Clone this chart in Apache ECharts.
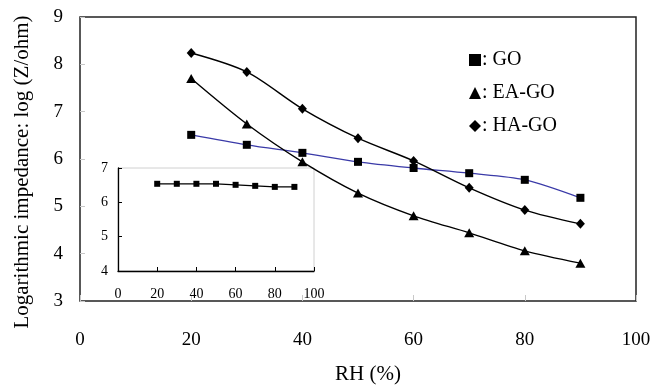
<!DOCTYPE html>
<html>
<head>
<meta charset="utf-8">
<script src="https://cdn.jsdelivr.net/npm/echarts@6/dist/echarts.min.js"></script>
<style>
  html, body { margin: 0; padding: 0; background: #fff; }
  #chart { width: 653px; height: 386px; }
</style>
</head>
<body>
<div id="chart"></div>
<script>
// Relative humidity (%) at each measurement
const rh = [20, 30, 40, 50, 60, 70, 80, 90];
// log(Z/ohm) for each sample
const goValues = [6.51, 6.30, 6.13, 5.94, 5.81, 5.70, 5.56, 5.18];
const eaGoValues = [7.70, 6.74, 5.94, 5.28, 4.80, 4.44, 4.06, 3.80];
const haGoValues = [8.24, 7.84, 7.06, 6.44, 5.96, 5.39, 4.92, 4.63];
// Inset: GO response on a separate scale
const insetGoValues = [6.54, 6.54, 6.54, 6.54, 6.51, 6.48, 6.45, 6.45];

const seriesNames = ['GO', 'EA-GO', 'HA-GO'];

const pairs = (xs, ys) => xs.map((x, i) => [x, ys[i]]);
const serif = '"Liberation Serif", "Times New Roman", serif';

const chart = echarts.init(document.getElementById('chart'), null, { renderer: 'canvas' });

chart.setOption({
  backgroundColor: '#fff',
  animation: false,
  textStyle: { fontFamily: serif, color: '#000' },
  legend: {
    orient: 'vertical',
    left: 464,
    top: 45,
    itemWidth: 12,
    itemHeight: 12,
    itemGap: 13,
    selectedMode: false,
    data: [
      { name: seriesNames[0], icon: 'rect' },
      { name: seriesNames[1], icon: 'triangle' },
      { name: seriesNames[2], icon: 'diamond' }
    ],
    formatter: name => ': ' + name,
    textStyle: { fontFamily: serif, fontSize: 20, color: '#000', lineHeight: 20, padding: [0, 0, 0, -4] }
  },
  grid: [
    {
      left: 80, top: 17, right: 17, bottom: 85,
      outerBoundsMode: 'none',
      show: true, borderColor: '#222', borderWidth: 1.5, backgroundColor: 'transparent'
    },
    {
      left: 118, top: 168, width: 196, height: 103,
      outerBoundsMode: 'none',
      show: true, borderColor: '#d0d0d0', borderWidth: 1, backgroundColor: '#fff'
    }
  ],
  xAxis: [
    {
      gridIndex: 0, type: 'value', min: 0, max: 100, interval: 20,
      name: 'RH (%)', nameLocation: 'middle', nameGap: 63,
      nameTextStyle: { fontFamily: serif, fontSize: 21, color: '#000', padding: [0, 0, 0, 20] },
      axisLine: { show: false },
      axisTick: { show: true, inside: true, length: 6, lineStyle: { color: '#c8c8c8' } },
      splitLine: { show: false },
      axisLabel: { fontFamily: serif, fontSize: 19, color: '#000', margin: 30 }
    },
    {
      gridIndex: 1, type: 'value', min: 0, max: 100, interval: 20,
      axisLine: { show: true, onZero: false, lineStyle: { color: '#000', width: 1.3 } },
      axisTick: { show: true, inside: true, length: 4, lineStyle: { color: '#000' } },
      splitLine: { show: false },
      axisLabel: { fontFamily: serif, fontSize: 14, color: '#000', margin: 16 }
    }
  ],
  yAxis: [
    {
      gridIndex: 0, type: 'value', min: 3, max: 9, interval: 1,
      name: 'Logarithmic impedance: log (Z/ohm)', nameLocation: 'middle', nameGap: 47, nameRotate: 90,
      nameTextStyle: { fontFamily: serif, fontSize: 21, color: '#000', padding: [0, 26, 0, 0] },
      axisLine: { show: false },
      axisTick: { show: true, inside: true, length: 5, lineStyle: { color: '#c8c8c8' } },
      splitLine: { show: false },
      axisLabel: { fontFamily: serif, fontSize: 19, color: '#000', margin: 17 }
    },
    {
      gridIndex: 1, type: 'value', min: 4, max: 7, interval: 1,
      axisLine: { show: true, onZero: false, lineStyle: { color: '#000', width: 1.3 } },
      axisTick: { show: true, inside: true, length: 4, lineStyle: { color: '#000' } },
      splitLine: { show: false },
      axisLabel: { fontFamily: serif, fontSize: 14, color: '#000', margin: 10 }
    }
  ],
  series: [
    {
      name: seriesNames[0], type: 'line', xAxisIndex: 0, yAxisIndex: 0,
      data: pairs(rh, goValues), smooth: 0.3,
      symbol: 'rect', symbolSize: 8,
      itemStyle: { color: '#000' },
      lineStyle: { color: '#3a3aa8', width: 1.3 },
      z: 3
    },
    {
      name: seriesNames[1], type: 'line', xAxisIndex: 0, yAxisIndex: 0,
      data: pairs(rh, eaGoValues), smooth: 0.3,
      symbol: 'triangle', symbolSize: [10, 9],
      itemStyle: { color: '#000' },
      lineStyle: { color: '#000', width: 1.4 },
      z: 3
    },
    {
      name: seriesNames[2], type: 'line', xAxisIndex: 0, yAxisIndex: 0,
      data: pairs(rh, haGoValues), smooth: 0.3,
      symbol: 'diamond', symbolSize: [9, 10],
      itemStyle: { color: '#000' },
      lineStyle: { color: '#000', width: 1.4 },
      z: 3
    },
    {
      name: 'GO inset', type: 'line', xAxisIndex: 1, yAxisIndex: 1,
      data: pairs(rh, insetGoValues),
      symbol: 'rect', symbolSize: 6,
      itemStyle: { color: '#000' },
      lineStyle: { color: '#000', width: 1.3 },
      z: 5
    }
  ]
});
</script>
</body>
</html>
